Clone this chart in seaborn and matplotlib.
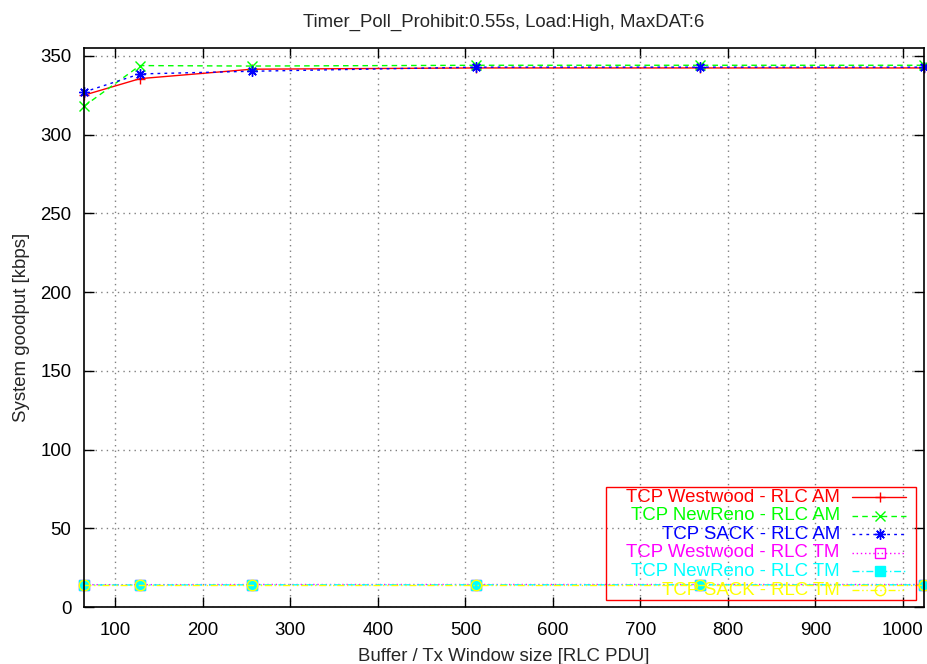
import numpy as np
import pandas as pd
import matplotlib
matplotlib.use("Agg")
import matplotlib.pyplot as plt
from matplotlib.lines import Line2D
from matplotlib.patches import Rectangle
import seaborn as sns

sns.set_style("ticks")
plt.rcParams['font.family'] = ['Liberation Sans', 'DejaVu Sans']

buffer_size = [64, 128, 256, 512, 768, 1024]
westwood_am = [325.0, 335.5, 341.5, 342.3, 342.3, 342.3]
newreno_am = [318.0, 343.8, 343.5, 344.0, 344.0, 344.0]
sack_am = [327.0, 338.5, 340.2, 342.8, 342.8, 342.8]
westwood_tm = [14.2, 14.2, 14.3, 14.3, 14.3, 14.3]
newreno_tm = [14.0, 14.0, 14.1, 14.1, 14.1, 14.1]
sack_tm = [14.0, 14.0, 14.0, 14.0, 14.0, 14.0]

labels = ["TCP Westwood - RLC AM", "TCP NewReno - RLC AM", "TCP SACK - RLC AM",
          "TCP Westwood - RLC TM", "TCP NewReno - RLC TM", "TCP SACK - RLC TM"]
series = [westwood_am, newreno_am, sack_am, westwood_tm, newreno_tm, sack_tm]
colors = ["#ff0000", "#00ff00", "#0000ff", "#ff00ff", "#00ffff", "#ffff00"]
styles = ["-", (0, (4, 3)), (0, (2, 3)), (0, (1, 2)), (0, (5, 2, 1, 2)), (0, (5, 2, 1, 2, 1, 2))]
markers = ["+", "x", (8, 2, 0), "s", "s", "o"]
fills = ["full", "full", "full", "none", "full", "none"]

FS = 13.4
MS = 7.5

fig = plt.figure(figsize=(9.28, 6.64), dpi=100)
ax = fig.add_axes([0.0905, 0.0858, 0.905, 0.842])

for y, lab, c, ls, m, f in zip(series, labels, colors, styles, markers, fills):
    sns.lineplot(x=buffer_size, y=y, ax=ax, color=c, linestyle=ls, linewidth=1.0,
                 marker=m, markersize=MS, markeredgewidth=1.0,
                 markeredgecolor=c, markerfacecolor=c if f == "full" else "none",
                 label=lab, clip_on=False, legend=False)

ax.set_xlim(64, 1024)
ax.set_ylim(0, 355)
ax.set_xticks(np.arange(100, 1001, 100))
ax.set_yticks(np.arange(0, 351, 50))
ax.grid(True, color="#808080", linestyle=(0, (1, 3)), linewidth=1.0)
ax.tick_params(direction="in", top=True, right=True, length=7, width=1.0,
               labelsize=FS, colors="black")
ax.tick_params(axis="x", pad=11)
ax.tick_params(axis="y", pad=9)
for s in ax.spines.values():
    s.set_visible(True)
    s.set_color("black")
    s.set_linewidth(1.2)

ax.set_xlabel("Buffer / Tx Window size [RLC PDU]", fontsize=FS, labelpad=6)
ax.set_ylabel("System goodput [kbps]", fontsize=FS, labelpad=7)
ax.set_title("Timer_Poll_Prohibit:0.55s, Load:High, MaxDAT:6", fontsize=FS, pad=15)

# gnuplot style key: right-aligned coloured labels, sample on the right
ax.add_patch(Rectangle((0.6214, 0.0125), 0.3691, 0.2022, transform=ax.transAxes,
                       fill=False, edgecolor="#ff0000", linewidth=1.0, zorder=5))
row_y = 0.1968 - 0.0333 * np.arange(len(labels))
for yy, lab, c, ls, m, f in zip(row_y, labels, colors, styles, markers, fills):
    ax.text(0.90, yy, lab, transform=ax.transAxes, ha="right", va="center",
            color=c, fontsize=FS, zorder=6)
    ax.add_line(Line2D([0.914, 0.9786], [yy, yy], transform=ax.transAxes,
                       color=c, linestyle=ls, linewidth=1.0, zorder=6))
    ax.add_line(Line2D([0.9476], [yy], transform=ax.transAxes, color=c,
                       marker=m, markersize=MS, markeredgewidth=1.0,
                       markerfacecolor=c if f == "full" else "none", zorder=6))

fig.savefig("out.png", dpi=100)
